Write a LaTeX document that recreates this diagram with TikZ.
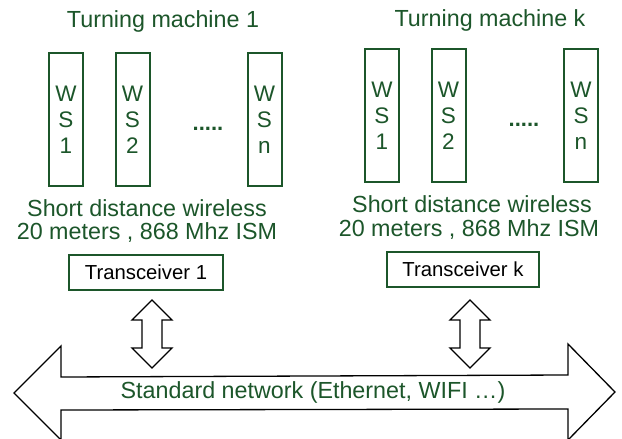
\documentclass[tikz,border=0pt]{standalone}
\usepackage{fontspec}
\setmainfont{Liberation Sans}
\begin{document}
\begin{tikzpicture}[x=1pt,y=-1pt,
  txt/.style={text=dgreen,font=\fontsize{23.3}{26}\selectfont,inner sep=0pt},
  wsbox/.style={draw=dgreen,line width=2pt,minimum width=34pt,minimum height=133pt,inner sep=0pt,text=dgreen,align=center,font=\fontsize{22.5}{26}\selectfont},
  trbox/.style={draw=dgreen,line width=1.8pt,minimum height=35pt,inner sep=0pt,text=black,font=\fontsize{20.3}{24}\selectfont},
  arr/.style={draw=black,line width=1.3pt,fill=white,line join=miter}
]
\definecolor{dgreen}{RGB}{28,86,42}
\useasboundingbox (0,0) rectangle (622,439);
\fill[white] (0,0) rectangle (622,439);

% Machine 1
\node[txt] (t1) at (163,21) {Turning machine 1};
\node[wsbox] (w11) at (66,119.5) {W\\S\\1};
\node[wsbox] (w12) at (132.5,119.5) {W\\S\\2};
\node[wsbox] (w1n) at (264.5,119.5) {W\\S\\n};
\node[txt,font=\bfseries\fontsize{22}{26}\selectfont] (d1) at (208,129) {.....};
\node[txt] (s1) at (147,208) {Short distance wireless};
\node[txt] (m1) at (147,233) {20 meters , 868 Mhz ISM};
\node[trbox,minimum width=154pt] (tr1) at (146,272.5) {Transceiver 1};

% Machine k
\node[txt] (tk) at (490,20) {Turning machine k};
\node[wsbox] (wk1) at (382,115.5) {W\\S\\1};
\node[wsbox] (wk2) at (448.5,115.5) {W\\S\\2};
\node[wsbox] (wkn) at (581,115.5) {W\\S\\n};
\node[txt,font=\bfseries\fontsize{22}{26}\selectfont] (dk) at (524,125) {.....};
\node[txt] (sk) at (472,204) {Short distance wireless};
\node[txt] (mk) at (469,230) {20 meters , 868 Mhz ISM};
\node[trbox,minimum width=152pt] (trk) at (463,269.5) {Transceiver k};

% vertical double arrows
\coordinate (a1) at (152,300);
\coordinate (ak) at (470,300);
\foreach \c in {a1,ak}{
  \draw[arr] (\c)
    -- ++(20,20) -- ++(-10,0) -- ++(0,28) -- ++(10,0) -- ++(-20,20)
    -- ++(-20,-20) -- ++(10,0) -- ++(0,-28) -- ++(-10,0) -- cycle;
}

% big double arrow
\coordinate (L) at (14,393);
\coordinate (R) at (615,392);
\draw[arr] (L) -- (61,346) -- (61,377) -- (568,375) -- (568,344) -- (R)
  -- (568,440) -- (568,409) -- (61,410) -- (61,440) -- cycle;
\node[txt] (net) at (313,392) {Standard network (Ethernet, WIFI …)};
\end{tikzpicture}
\end{document}
